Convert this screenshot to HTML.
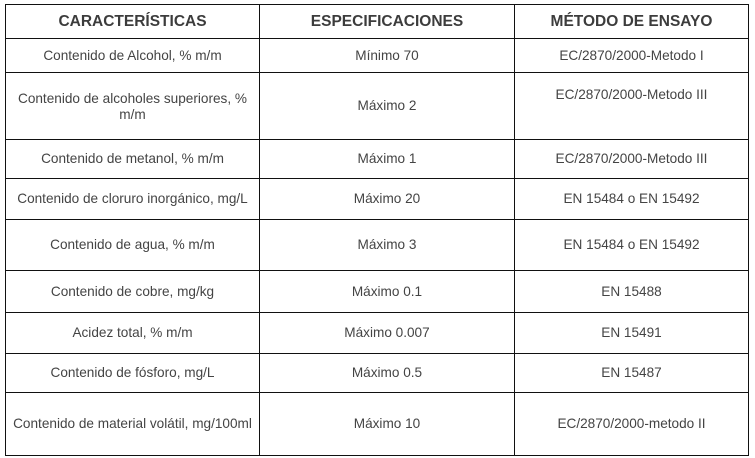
<!DOCTYPE html>
<html><head><style>
html,body{margin:0;padding:0;background:#fff;width:755px;height:458px;overflow:hidden;position:relative}
.h{position:absolute;height:1px;background:#111;left:5px;width:744px}
.v{position:absolute;width:1px;background:#111;top:4px;height:452px}
.t{position:absolute;display:flex;align-items:center;justify-content:center;text-align:center;font-family:"Liberation Sans",sans-serif;font-size:13.6px;color:#444;line-height:16px;box-sizing:border-box}
.b{font-weight:bold;font-size:15.5px;color:#3c3c3c}
.c0{left:6px;width:253px}.c1{left:260px;width:254px}.c2{left:515px;width:233px}
.r0{top:5px;height:33px}.r1{top:39px;height:33px}.r2{top:73px;height:66px}.r3{top:140px;height:38px}
.r4{top:179px;height:40px}.r5{top:220px;height:50px}.r6{top:271px;height:41px}.r7{top:313px;height:40px}
.r8{top:354px;height:38px}.r9{top:393px;height:62px}
</style></head><body>
<div class="h" style="top:4px"></div>
<div class="h" style="top:38px"></div>
<div class="h" style="top:72px"></div>
<div class="h" style="top:139px"></div>
<div class="h" style="top:178px"></div>
<div class="h" style="top:219px"></div>
<div class="h" style="top:270px"></div>
<div class="h" style="top:312px"></div>
<div class="h" style="top:353px"></div>
<div class="h" style="top:392px"></div>
<div class="h" style="top:455px"></div>
<div class="v" style="left:5px"></div>
<div class="v" style="left:259px"></div>
<div class="v" style="left:514px"></div>
<div class="v" style="left:748px"></div>

<div class="t b c0 r0">CARACTERÍSTICAS</div><div class="t b c1 r0">ESPECIFICACIONES</div><div class="t b c2 r0">MÉTODO DE ENSAYO</div>
<div class="t c0 r1">Contenido de Alcohol, % m/m</div><div class="t c1 r1">Mínimo 70</div><div class="t c2 r1">EC/2870/2000-Metodo I</div>
<div class="t c0 r2" style="align-items:flex-start;padding-top:18px">Contenido de alcoholes superiores, %<br>m/m</div><div class="t c1 r2">Máximo 2</div><div class="t c2 r2" style="align-items:flex-start;padding-top:14px">EC/2870/2000-Metodo III</div>
<div class="t c0 r3">Contenido de metanol, % m/m</div><div class="t c1 r3">Máximo 1</div><div class="t c2 r3">EC/2870/2000-Metodo III</div>
<div class="t c0 r4">Contenido de cloruro inorgánico, mg/L</div><div class="t c1 r4">Máximo 20</div><div class="t c2 r4">EN 15484 o EN 15492</div>
<div class="t c0 r5">Contenido de agua, % m/m</div><div class="t c1 r5">Máximo 3</div><div class="t c2 r5">EN 15484 o EN 15492</div>
<div class="t c0 r6">Contenido de cobre, mg/kg</div><div class="t c1 r6">Máximo 0.1</div><div class="t c2 r6">EN 15488</div>
<div class="t c0 r7">Acidez total, % m/m</div><div class="t c1 r7">Máximo 0.007</div><div class="t c2 r7">EN 15491</div>
<div class="t c0 r8">Contenido de fósforo, mg/L</div><div class="t c1 r8">Máximo 0.5</div><div class="t c2 r8">EN 15487</div>
<div class="t c0 r9">Contenido de material volátil, mg/100ml</div><div class="t c1 r9">Máximo 10</div><div class="t c2 r9">EC/2870/2000-metodo II</div>
</body></html>
